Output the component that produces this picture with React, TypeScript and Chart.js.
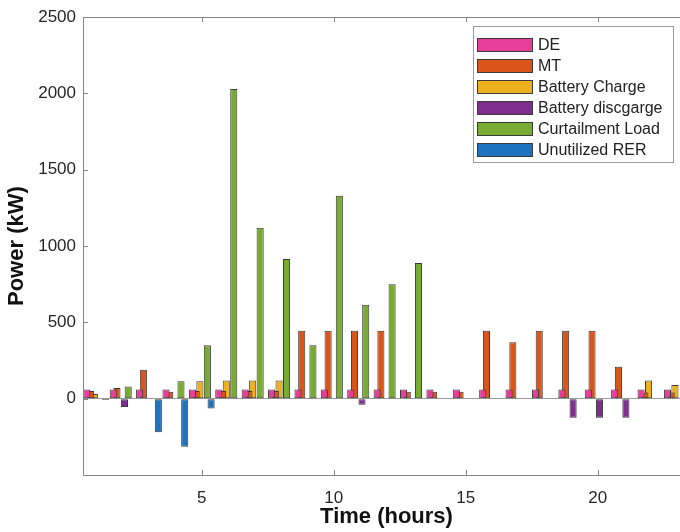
import React, { useEffect, useRef } from "react";
import { Chart, registerables } from "chart.js";

Chart.register(...registerables);

// ---- data ----
const hours = ["1","2","3","4","5","6","7","8","9","10","11","12","13","14","15","16","17","18","19","20","21","22","23"];
const xTickLabels = ["5", "10", "15", "20"];
const yTickValues = [0, 500, 1000, 1500, 2000, 2500];

const seriesLabels = ["DE", "MT", "Battery Charge", "Battery discgarge", "Curtailment Load", "Unutilized RER"];
const seriesColors = ["#E63E9B", "#DA5519", "#EDB120", "#7E2F8E", "#77AC30", "#1F72BD"];

const deValues = [60, 60, 60, 60, 60, 60, 60, 60, 60, 60, 60, 60, 60, 60, 60, 60, 60, 60, 60, 60, 60, 60, 60];
const mtValues = [50, 70, 190, 45, 50, 50, 50, 50, 445, 445, 445, 445, 45, 45, 45, 445, 370, 445, 445, 445, 210, 40, 40];
const chargeValues = [30, 0, 0, 0, 115, 120, 120, 120, 0, 0, 0, 0, 0, 0, 0, 0, 0, 0, 0, 0, 0, 120, 90];
const dischargeValues = [0, -55, 0, 0, 0, 0, 0, 0, 0, 0, -40, 0, 0, 0, 0, 0, 0, 0, -125, -125, -125, 0, 0];
const curtailValues = [0, 80, 0, 115, 350, 2030, 1120, 915, 350, 1330, 615, 750, 890, 0, 0, 0, 0, 0, 0, 0, 0, 0, 0];
const unutilizedValues = [-8, 0, -220, -315, -65, 0, 0, 0, 0, 0, 0, 0, 0, 0, 0, 0, 0, 0, 0, 0, 0, 0, 0];

const seriesValues = [deValues, mtValues, chargeValues, dischargeValues, curtailValues, unutilizedValues];

const FONT = "'Liberation Sans', Arial, Helvetica, sans-serif";
const AXIS_COLOR = "#858585";

const boxPlugin = {
  id: "matlabBox",
  afterDatasetsDraw(chart: any) {
    const { ctx, chartArea } = chart;
    const { left, right, top, bottom } = chartArea;
    const xs = chart.scales.x;
    const ys = chart.scales.y;
    ctx.save();
    ctx.strokeStyle = AXIS_COLOR;
    ctx.lineWidth = 1;
    ctx.beginPath();
    ctx.rect(Math.round(left) + 0.5, Math.round(top) + 0.5, Math.round(right - left), Math.round(bottom - top));
    ctx.stroke();
    const tl = 5;
    ctx.beginPath();
    yTickValues.forEach((v) => {
      const y = Math.round(ys.getPixelForValue(v)) + 0.5;
      ctx.moveTo(left, y);
      ctx.lineTo(left + tl, y);
      ctx.moveTo(right, y);
      ctx.lineTo(right - tl, y);
    });
    xTickLabels.forEach((lab) => {
      const idx = hours.indexOf(lab);
      const x = Math.round(xs.getPixelForValue(idx)) + 0.5;
      ctx.moveTo(x, bottom);
      ctx.lineTo(x, bottom - tl);
      ctx.moveTo(x, top);
      ctx.lineTo(x, top + tl);
    });
    ctx.stroke();
    ctx.restore();
  },
};

const legendPlugin = {
  id: "matlabLegend",
  afterDraw(chart: any) {
    const { ctx } = chart;
    const bx = 473, by = 26, bw = 200, bh = 136;
    ctx.save();
    ctx.fillStyle = "#ffffff";
    ctx.fillRect(bx, by, bw, bh);
    ctx.strokeStyle = "#9a9a9a";
    ctx.lineWidth = 1;
    ctx.strokeRect(bx + 0.5, by + 0.5, bw, bh);
    ctx.font = `16px ${FONT}`;
    ctx.textBaseline = "middle";
    ctx.textAlign = "left";
    chart.data.datasets.forEach((ds: any, i: number) => {
      const cy = 45 + i * 20.9;
      ctx.fillStyle = ds.backgroundColor;
      ctx.fillRect(477, Math.round(cy - 7), 56, 14);
      ctx.strokeStyle = "#3a3a3a";
      ctx.strokeRect(477.5, Math.round(cy - 7) + 0.5, 55, 13);
      ctx.fillStyle = "#222222";
      ctx.fillText(ds.label, 538, cy + 1);
    });
    ctx.restore();
  },
};

export default function App() {
  const canvasRef = useRef<HTMLCanvasElement | null>(null);

  useEffect(() => {
    const canvas = canvasRef.current;
    if (!canvas) return;
    const chart = new Chart(canvas, {
      type: "bar",
      data: {
        labels: hours,
        datasets: seriesLabels.map((label, i) => ({
          label,
          data: seriesValues[i],
          backgroundColor: seriesColors[i],
          borderColor: "#3a3a3a",
          borderWidth: 1,
          borderSkipped: false,
          categoryPercentage: 0.85,
          barPercentage: 1.9,
        })),
      },
      options: {
        responsive: false,
        animation: false,
        devicePixelRatio: 1,
        layout: { padding: { top: 12, right: 10, left: 0, bottom: 0 } },
        plugins: {
          legend: { display: false },
          tooltip: { enabled: false },
        },
        scales: {
          x: {
            type: "category",
            offset: true,
            grid: { display: false, drawTicks: false },
            border: { display: false },
            ticks: {
              autoSkip: false,
              maxRotation: 0,
              padding: 13,
              color: "#262626",
              font: { family: FONT, size: 17 },
              callback: (_v: any, idx: number) => (xTickLabels.includes(hours[idx]) ? hours[idx] : ""),
            },
            title: {
              display: true,
              text: "Time (hours)",
              color: "#111111",
              font: { family: FONT, size: 22, weight: "bold" },
              padding: { top: 0, bottom: 2 },
            },
            afterFit: (scale: any) => {
              scale.height = 57;
            },
          },
          y: {
            min: -500,
            max: 2500,
            afterBuildTicks: (scale: any) => {
              scale.ticks = yTickValues.map((v) => ({ value: v }));
            },
            grid: {
              drawTicks: false,
              color: (c: any) => (c.tick && c.tick.value === 0 ? "#9a9a9a" : "rgba(0,0,0,0)"),
            },
            border: { display: false },
            ticks: {
              padding: 7,
              color: "#262626",
              font: { family: FONT, size: 17 },
              callback: (v: any) => String(v),
            },
            title: {
              display: true,
              text: "Power (kW)",
              color: "#111111",
              font: { family: FONT, size: 22, weight: "bold" },
              padding: { top: 4, bottom: 0 },
            },
            afterFit: (scale: any) => {
              scale.width = 83;
            },
          },
        },
      },
      plugins: [boxPlugin, legendPlugin],
    });
    return () => chart.destroy();
  }, []);

  return (
    <div style={{ position: "fixed", left: 0, top: 0, width: 680, height: 532, overflow: "hidden", background: "#fff" }}>
      <canvas ref={canvasRef} width={700} height={532} style={{ display: "block", width: 700, height: 532 }} />
    </div>
  );
}
